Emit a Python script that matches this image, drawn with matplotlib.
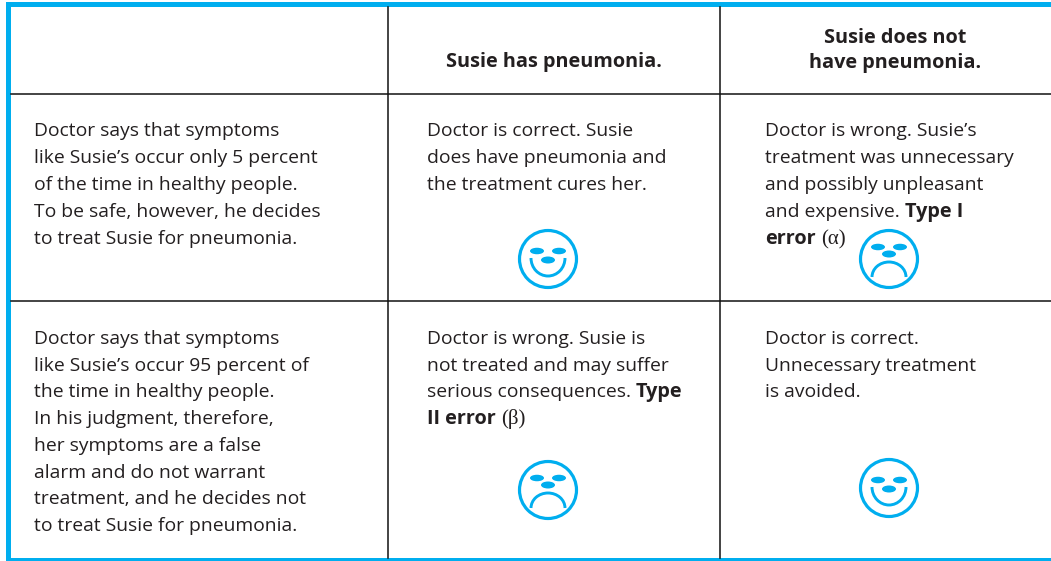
from matplotlib import pyplot as plt
from matplotlib.patches import Arc, Circle, Ellipse, Rectangle

BLUE = '#00aeef'
TEXT = '#231f20'
FONT = 'Open Sans'
SIZE = 13.85
BOLD_SIZE = 14.35

# ** marks a bold run, ~ marks a serif run
headers = [['Susie has pneumonia.'], ['Susie does not', 'have pneumonia.']]
row_labels = [
    ["Doctor says that symptoms", "like Susie’s occur only 5 percent", "of the time in healthy people.",
     "To be safe, however, he decides", "to treat Susie for pneumonia."],
    ["Doctor says that symptoms", "like Susie’s occur 95 percent of", "the time in healthy people.",
     "In his judgment, therefore,", "her symptoms are a false", "alarm and do not warrant",
     "treatment, and he decides not", "to treat Susie for pneumonia."],
]
cells = [
    [["Doctor is correct. Susie", "does have pneumonia and", "the treatment cures her."],
     ["Doctor is wrong. Susie’s", "treatment was unnecessary", "and possibly unpleasant",
      "and expensive. **Type I**", "**error** ~(α)~"]],
    [["Doctor is wrong. Susie is", "not treated and may suffer", "serious consequences. **Type**",
      "**II error** ~(β)~"],
     ["Doctor is correct.", "Unnecessary treatment", "is avoided."]],
]
faces = [['happy', 'sad'], ['sad', 'happy']]

fig = plt.figure(figsize=(10.51, 5.61), dpi=100)
ax = fig.add_axes((0, 0, 1, 1))
ax.set_xlim(0, 1051)
ax.set_ylim(561, 0)
ax.axis('off')

# frame
ax.add_patch(Rectangle((6, 2), 1045, 5, color=BLUE, lw=0))
ax.add_patch(Rectangle((6, 2), 5, 559, color=BLUE, lw=0))
ax.add_patch(Rectangle((6, 558), 1045, 3, color=BLUE, lw=0))

# grid lines
for x in (388, 720):
    ax.plot([x, x], [7, 558], color='#111111', lw=1.1)
for y in (94, 301):
    ax.plot([11, 1051], [y, y], color='#111111', lw=1.1)


def draw_line(x, y, line):
    renderer = fig.canvas.get_renderer()
    for i, part in enumerate(line.split('**')):
        bold = i % 2 == 1
        for j, run in enumerate(part.split('~')):
            if not run:
                continue
            serif = j % 2 == 1
            t = ax.text(x, y, run, color=TEXT, va='baseline',
                        fontsize=15 if serif else (BOLD_SIZE if bold else SIZE),
                        family='Liberation Serif' if serif else FONT,
                        weight='bold' if bold else 'normal')
            # keep trailing space width by measuring with a stop character
            t.set_text(run + '|')
            w1 = t.get_window_extent(renderer).width
            t.set_text('|')
            w2 = t.get_window_extent(renderer).width
            t.set_text(run)
            x += w1 - w2


def draw_block(x, y, lines, step):
    for i, line in enumerate(lines):
        draw_line(x, y + i * step, line)


def draw_face(cx, cy, kind):
    ax.add_patch(Circle((cx, cy), 28.5, fill=False, ec=BLUE, lw=2.3))
    if kind == 'happy':
        eye_y, nose_y = cy - 8, cy + 1
        ax.add_patch(Arc((cx, cy - 1), 34, 36, theta1=0, theta2=180, ec=BLUE, lw=2.1))
    else:
        eye_y, nose_y = cy - 12, cy - 5
        ax.add_patch(Arc((cx, cy + 18), 34, 30, theta1=180, theta2=360, ec=BLUE, lw=2.1))
    for dx in (-11, 11):
        ax.add_patch(Ellipse((cx + dx, eye_y), 14, 6.5, color=BLUE, lw=0))
    ax.add_patch(Ellipse((cx, nose_y), 14, 7, color=BLUE, lw=0))


# headers
ax.text(553.5, 67, headers[0][0], ha='center', va='baseline', color=TEXT,
        fontsize=BOLD_SIZE, family=FONT, weight='bold')
for i, line in enumerate(headers[1]):
    ax.text(895, 43 + i * 25, line, ha='center', va='baseline', color=TEXT,
            fontsize=BOLD_SIZE, family=FONT, weight='bold')

fig.canvas.draw()

draw_block(34, 136, row_labels[0], 27)
draw_block(34, 344, row_labels[1], 26.7)
draw_block(427, 136, cells[0][0], 27)
draw_block(765, 136, cells[0][1], 27)
draw_block(427, 344, cells[1][0], 26.7)
draw_block(765, 344, cells[1][1], 26.7)

draw_face(548, 259, faces[0][0])
draw_face(889, 259, faces[0][1])
draw_face(548, 490, faces[1][0])
draw_face(889, 488, faces[1][1])

fig.savefig('out.png', dpi=100)
